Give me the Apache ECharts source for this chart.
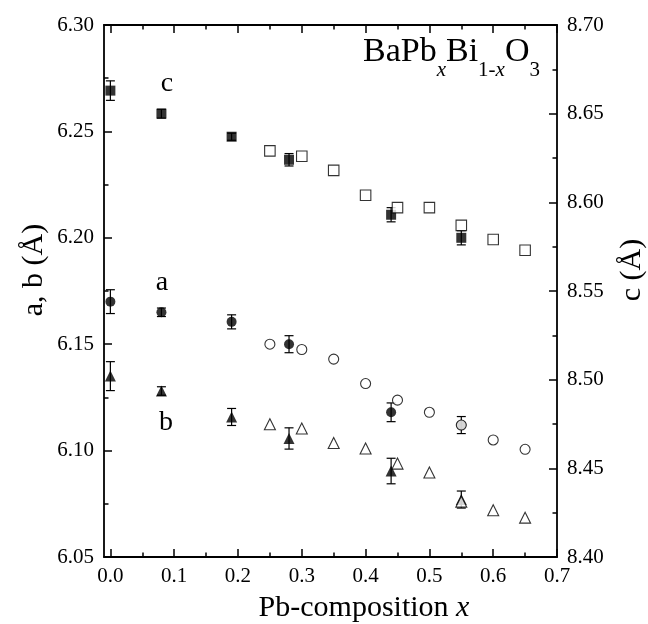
<!DOCTYPE html>
<html>
<head>
<meta charset="utf-8">
<script src="https://cdn.jsdelivr.net/npm/echarts@6.0.0/dist/echarts.min.js"></script>
<style>
html,body{margin:0;padding:0;background:#fff;}
#chart{width:648px;height:624px;}
</style>
</head>
<body>
<div id="chart"></div>
<script>
// ---- data ----
const xMajorTicks = [0, 0.1, 0.2, 0.3, 0.4, 0.5, 0.6, 0.7];
const xMinorTicks = [0.05, 0.15, 0.25, 0.35, 0.45, 0.55, 0.65];

// filled symbols (with error bars)
const filledX = [0, 0.08, 0.19, 0.28, 0.44, 0.55];
const cFilled = [8.663, 8.650, 8.637, 8.624, 8.593, 8.580];
const cFilledErr = [0.0055, 0.0025, 0.002, 0.0035, 0.004, 0.004];
const aFilled = [6.170, 6.165, 6.1605, 6.150, 6.118, 6.112];
const aFilledErr = [0.0056, 0.002, 0.0033, 0.004, 0.0044, 0.004];
const bFilled = [6.135, 6.128, 6.1158, 6.1057, 6.0904, 6.077];
const bFilledErr = [0.0068, 0.002, 0.004, 0.005, 0.006, 0.004];

// open symbols
const openX = [0.25, 0.30, 0.35, 0.40, 0.45, 0.50, 0.55, 0.60, 0.65];
const cOpen = [8.629, 8.626, 8.618, 8.604, 8.597, 8.597, 8.587, 8.579, 8.573];
const aOpen = [6.150, 6.1475, 6.143, 6.1315, 6.1237, 6.118, 6.112, 6.105, 6.1006];
const bOpen = [6.1124, 6.1104, 6.1036, 6.101, 6.0939, 6.0897, 6.076, 6.072, 6.0685];

// ---- chart ----
const FONT = 'Liberation Serif';
const zip2 = (xs, ys) => xs.map((x, i) => [x, ys[i]]);
const zip3 = (xs, ys, es) => xs.map((x, i) => [x, ys[i], es[i]]);

function errRender(params, api) {
  const x = api.value(0), y = api.value(1), e = api.value(2);
  const hi = api.coord([x, y + e]);
  const lo = api.coord([x, y - e]);
  const hw = 4.5;
  const st = { stroke: '#000', lineWidth: 1.2 };
  return {
    type: 'group',
    children: [
      { type: 'line', shape: { x1: hi[0], y1: hi[1], x2: lo[0], y2: lo[1] }, style: st },
      { type: 'line', shape: { x1: hi[0] - hw, y1: hi[1], x2: hi[0] + hw, y2: hi[1] }, style: st },
      { type: 'line', shape: { x1: lo[0] - hw, y1: lo[1], x2: lo[0] + hw, y2: lo[1] }, style: st }
    ]
  };
}

const axisLineStyle = { color: '#000', width: 1.8 };
const tickLineStyle = { color: '#000', width: 1.5 };

function xAxisDef(pos, ticks, len, showLine, showLabel) {
  return {
    type: 'value', position: pos, min: -0.01, max: 0.7,
    axisLine: { show: showLine, onZero: false, lineStyle: axisLineStyle },
    axisTick: { show: true, inside: true, length: len, customValues: ticks, lineStyle: tickLineStyle },
    axisLabel: showLabel ? {
      show: true, customValues: ticks, formatter: v => v.toFixed(1),
      fontFamily: FONT, fontSize: 21, color: '#000', margin: 9
    } : { show: false },
    splitLine: { show: false }
  };
}

function yAxisDef(pos, min, max) {
  return {
    type: 'value', position: pos, min: min, max: max, interval: 0.05,
    axisLine: { show: true, onZero: false, lineStyle: axisLineStyle },
    axisTick: { show: true, inside: true, length: 8, lineStyle: tickLineStyle },
    minorTick: { show: true, splitNumber: 2, length: 4.5, lineStyle: tickLineStyle },
    axisLabel: {
      formatter: v => v.toFixed(2), fontFamily: FONT, fontSize: 21, color: '#000', margin: 10
    },
    splitLine: { show: false },
    minorSplitLine: { show: false }
  };
}

function filledSeries(ys, yIdx, sym, size) {
  return {
    type: 'scatter', xAxisIndex: 0, yAxisIndex: yIdx, data: zip2(filledX, ys),
    symbol: sym, symbolSize: size, itemStyle: { color: '#000' }, z: 3,
    emphasis: { disabled: true }
  };
}
function openSeries(ys, yIdx, sym, size) {
  return {
    type: 'scatter', xAxisIndex: 0, yAxisIndex: yIdx, data: zip2(openX, ys),
    symbol: sym, symbolSize: size,
    itemStyle: { color: '#fff', borderColor: '#000', borderWidth: 1.1 }, z: 4,
    emphasis: { disabled: true }
  };
}
function errSeries(ys, es, yIdx) {
  return {
    type: 'custom', xAxisIndex: 0, yAxisIndex: yIdx, data: zip3(filledX, ys, es),
    encode: { x: 0, y: 1 }, renderItem: errRender, z: 2, silent: true
  };
}

const chart = echarts.init(document.getElementById('chart'), null, { renderer: 'canvas' });
chart.setOption({
  animation: false,
  backgroundColor: '#fff',
  grid: { left: 104, right: 91, top: 25, bottom: 67, containLabel: false },
  xAxis: [
    xAxisDef('bottom', xMajorTicks, 8, true, true),
    xAxisDef('bottom', xMinorTicks, 4.5, false, false),
    xAxisDef('top', xMajorTicks, 8, true, false),
    xAxisDef('top', xMinorTicks, 4.5, false, false)
  ],
  yAxis: [
    yAxisDef('left', 6.05, 6.30),
    yAxisDef('right', 8.40, 8.70)
  ],
  series: [
    errSeries(cFilled, cFilledErr, 1),
    errSeries(aFilled, aFilledErr, 0),
    errSeries(bFilled, bFilledErr, 0),
    filledSeries(cFilled, 1, 'rect', 10),
    filledSeries(aFilled, 0, 'circle', 10),
    filledSeries(bFilled, 0, 'triangle', 11),
    openSeries(cOpen, 1, 'rect', 10.5),
    openSeries(aOpen, 0, 'circle', 10),
    openSeries(bOpen, 0, 'triangle', 11)
  ],
  graphic: [
    {
      type: 'text', x: 363, y: 46.5, z: 10,
      style: {
        text: '{m|BaPb}{si|x}{m|Bi}{s|1-}{si|x}{m|O}{s|3}',
        align: 'left', verticalAlign: 'top',
        rich: {
          m: { fontFamily: FONT, fontSize: 34, lineHeight: 34, verticalAlign: 'bottom', padding: [0, 0, 11, 0], fill: '#000' },
          s: { fontFamily: FONT, fontSize: 21, lineHeight: 21, verticalAlign: 'bottom', fill: '#000' },
          si: { fontFamily: FONT, fontSize: 21, lineHeight: 21, fontStyle: 'italic', verticalAlign: 'bottom', fill: '#000' }
        }
      }
    },
    { type: 'text', x: 167, y: 84, z: 10, style: { text: 'c', font: '28px "Liberation Serif"', fill: '#000', align: 'center', verticalAlign: 'middle' } },
    { type: 'text', x: 162, y: 283, z: 10, style: { text: 'a', font: '28px "Liberation Serif"', fill: '#000', align: 'center', verticalAlign: 'middle' } },
    { type: 'text', x: 166, y: 423, z: 10, style: { text: 'b', font: '28px "Liberation Serif"', fill: '#000', align: 'center', verticalAlign: 'middle' } },
    {
      type: 'text', x: 364, y: 608, z: 10,
      style: {
        text: '{n|Pb-composition }{i|x}', align: 'center', verticalAlign: 'middle',
        rich: {
          n: { fontFamily: FONT, fontSize: 30, fill: '#000' },
          i: { fontFamily: FONT, fontSize: 30, fontStyle: 'italic', fill: '#000' }
        }
      }
    },
    { type: 'text', x: 34, y: 270, rotation: Math.PI / 2, z: 10, style: { text: 'a, b (Å)', font: '30px "Liberation Serif"', fill: '#000', align: 'center', verticalAlign: 'middle' } },
    { type: 'text', x: 632, y: 270, rotation: Math.PI / 2, z: 10, style: { text: 'c (Å)', font: '30px "Liberation Serif"', fill: '#000', align: 'center', verticalAlign: 'middle' } }
  ]
});
</script>
</body>
</html>
